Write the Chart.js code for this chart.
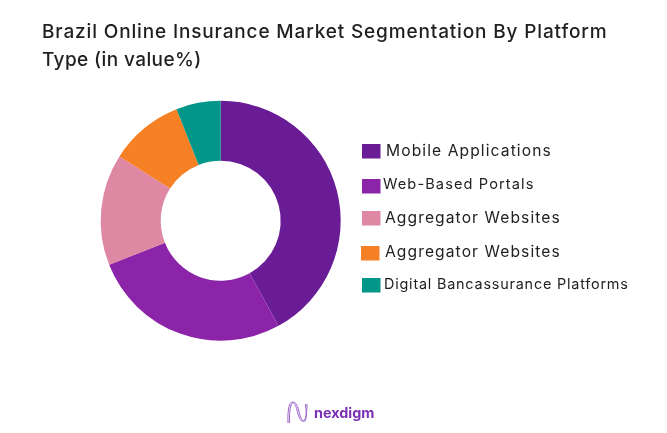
<!DOCTYPE html>
<html>
<head>
<meta charset="utf-8">
<style>html,body{margin:0;padding:0;background:#fff}canvas{display:block}</style>
<script src="https://cdn.jsdelivr.net/npm/chart.js@4/dist/chart.umd.min.js"></script>
</head>
<body>
<div style="position:relative;width:667px;height:433px"><canvas id="c" width="667" height="433"></canvas></div>
<script>
const titleLines = ["Brazil Online Insurance Market Segmentation By Platform", "Type (in value%)"];
const categories = ["Mobile Applications", "Web-Based Portals", "Aggregator Websites", "Aggregator Websites", "Digital Bancassurance Platforms"];
const values = [42, 27, 15, 10, 6];
const colors = ["#6A1B96", "#8B24A8", "#DE88A4", "#F58025", "#00968A"];
const brand = "nexdigm";

const FONT = 'Inter, "Open Sans", sans-serif';
const legendLayout = [
  {bx:362, by:144, tx:386, ty:151, size:15.6, ls:1.1},
  {bx:362, by:179, tx:383, ty:185, size:14.6, ls:1.1},
  {bx:362, by:211, tx:385, ty:218, size:15.6, ls:1.1},
  {bx:361, by:246, tx:385, ty:252, size:15.6, ls:1.1},
  {bx:362, by:278, tx:384, ty:285, size:14.4, ls:0.8}
];

const overlay = {
  id: 'overlay',
  afterDraw(chart) {
    const ctx = chart.ctx;
    ctx.save();
    ctx.textAlign = 'left';
    ctx.textBaseline = 'middle';
    ctx.fillStyle = '#1f1f1f';
    ctx.font = '500 19px ' + FONT;
    ctx.letterSpacing = '0.85px';
    ctx.fillText(titleLines[0], 42, 32);
    ctx.letterSpacing = '0.4px';
    ctx.fillText(titleLines[1], 42, 60);
    categories.forEach((label, i) => {
      const l = legendLayout[i];
      ctx.fillStyle = colors[i];
      ctx.fillRect(l.bx, l.by, 18.5, 14.5);
      ctx.fillStyle = '#222222';
      ctx.font = '400 ' + l.size + 'px ' + FONT;
      ctx.letterSpacing = l.ls + 'px';
      ctx.fillText(label, l.tx, l.ty);
    });
    ctx.fillStyle = '#7B2FB5';
    ctx.font = '700 14.4px ' + FONT;
    ctx.letterSpacing = '0px';
    ctx.fillText(brand, 314, 413.5);
    // logo wave mark
    ctx.strokeStyle = '#9A63C8';
    ctx.lineWidth = 1;
    [[0,0],[1.6,0.4]].forEach(([dx,dy]) => {
      ctx.beginPath();
      ctx.moveTo(288 + dx, 423);
      ctx.bezierCurveTo(287 + dx, 398, 294 + dx, 398, 297 + dx, 410);
      ctx.bezierCurveTo(300 + dx, 425, 307 + dx, 427, 307 - dx, 404);
      ctx.stroke();
    });
    ctx.restore();
  }
};

new Chart(document.getElementById('c'), {
  type: 'doughnut',
  data: {
    labels: categories,
    datasets: [{ data: values, backgroundColor: colors, borderWidth: 0 }]
  },
  options: {
    responsive: false,
    animation: false,
    cutout: '50%',
    layout: { padding: { left: 100.7, right: 326.3, top: 100.7, bottom: 92.3 } },
    plugins: { legend: { display: false }, title: { display: false }, tooltip: { enabled: false } }
  },
  plugins: [overlay]
});
</script>
</body>
</html>
